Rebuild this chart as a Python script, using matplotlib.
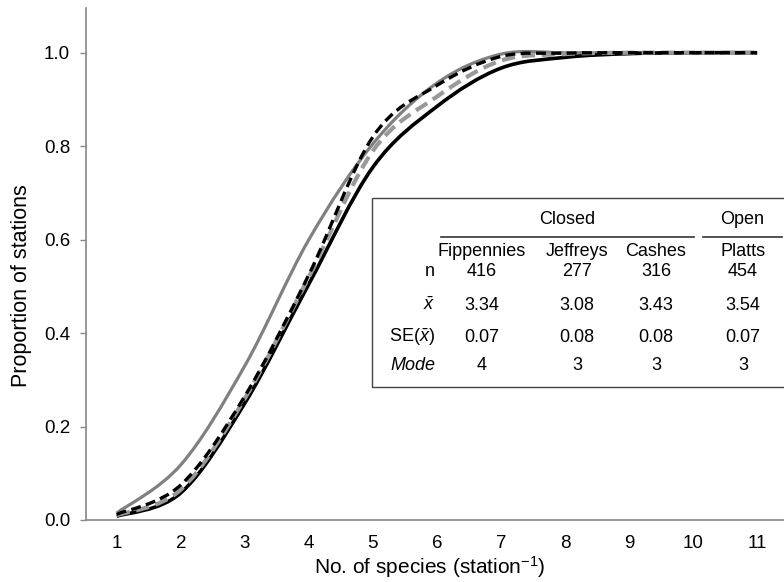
import matplotlib
matplotlib.use('Agg')
import matplotlib.pyplot as plt
from matplotlib.path import Path
from matplotlib.patches import PathPatch, Rectangle
from matplotlib.lines import Line2D

plt.rcParams['font.family'] = ['Liberation Sans', 'DejaVu Sans']
plt.rcParams['mathtext.fontset'] = 'custom'
plt.rcParams['mathtext.rm'] = 'Liberation Sans'
plt.rcParams['mathtext.it'] = 'Liberation Sans:italic'

# データ
species = [1, 2, 3, 4, 5, 6, 7, 8, 9, 10, 11]
gray_solid = [0.015, 0.118, 0.33, 0.60, 0.805, 0.935, 0.997, 1.0, 1.0, 1.0, 1.0]
black_solid = [0.008, 0.058, 0.25, 0.505, 0.755, 0.885, 0.967, 0.99, 0.998, 1.0, 1.0]
gray_dashed = [0.010, 0.065, 0.26, 0.52, 0.79, 0.906, 0.983, 0.997, 1.0, 1.0, 1.0]
black_dashed = [0.012, 0.075, 0.265, 0.525, 0.82, 0.93, 0.992, 0.999, 1.0, 1.0, 1.0]

# 表の内容
sites = ['Fippennies', 'Jeffreys', 'Cashes', 'Platts']
n_vals = ['416', '277', '316', '454']
mean_vals = ['3.34', '3.08', '3.43', '3.54']
se_vals = ['0.07', '0.08', '0.08', '0.07']
mode_vals = ['4', '3', '3', '3']

W, H = 784, 582
fig = plt.figure(figsize=(W / 100, H / 100), dpi=100)
ax = fig.add_axes([86 / W, 62 / H, (W - 86) / W, 512 / H])


def smooth_path(xs, ys):
    # Excel風のスムージング (Catmull-Rom -> Bezier)
    pts = list(zip(xs, ys))
    verts = [pts[0]]
    codes = [Path.MOVETO]
    n = len(pts)
    for i in range(n - 1):
        p0 = pts[i - 1] if i > 0 else pts[i]
        p1 = pts[i]
        p2 = pts[i + 1]
        p3 = pts[i + 2] if i + 2 < n else pts[i + 1]
        c1 = (p1[0] + (p2[0] - p0[0]) / 6, p1[1] + (p2[1] - p0[1]) / 6)
        c2 = (p2[0] - (p3[0] - p1[0]) / 6, p2[1] - (p3[1] - p1[1]) / 6)
        verts += [c1, c2, p2]
        codes += [Path.CURVE4] * 3
    return Path(verts, codes)


styles = [
    (gray_solid, dict(color='#808080', lw=2.3, linestyle='-')),
    (black_solid, dict(color='black', lw=2.6, linestyle='-')),
    (gray_dashed, dict(color='#999999', lw=3.0, linestyle=(0, (3.2, 1.6)))),
    (black_dashed, dict(color='black', lw=2.4, linestyle=(0, (3.0, 1.6)))),
]
for ys, st in styles:
    ax.add_patch(PathPatch(smooth_path(species, ys), fill=False,
                           capstyle='butt', **st))

ax.set_xlim(0.52, 11.42)
ax.set_ylim(0, 1.0957)
ax.set_xticks(species)
ax.set_yticks([0.0, 0.2, 0.4, 0.6, 0.8, 1.0])
ax.set_yticklabels(['0.0', '0.2', '0.4', '0.6', '0.8', '1.0'])
ax.tick_params(axis='x', length=0, labelsize=13.5, pad=11)
ax.tick_params(axis='y', length=4.5, width=1, color='#888888', labelsize=13.5, pad=7)
for s in ['top', 'right']:
    ax.spines[s].set_visible(False)
ax.spines['left'].set_color('#888888')
ax.spines['bottom'].set_color('#888888')
ax.spines['left'].set_linewidth(1.2)
ax.spines['bottom'].set_linewidth(1.2)

fig.text(430 / W, 1 - 567 / H, 'No. of species (station$^{-1}$)',
         ha='center', va='center', fontsize=15)
fig.text(22 / W, 1 - 286 / H, 'Proportion of stations', rotation=90,
         ha='center', va='center', fontsize=15.5)


def ptext(x, y, s, **kw):
    fig.text(x / W, 1 - y / H, s, va='center', fontsize=13, **kw)


# 表の枠
fig.add_artist(Rectangle((372 / W, 1 - 387 / H), (800 - 372) / W, (387 - 198) / H,
                         transform=fig.transFigure, fill=False,
                         edgecolor='#444444', lw=1.0))
fig.add_artist(Line2D([441 / W, 694 / W], [1 - 237 / H] * 2,
                      transform=fig.transFigure, color='#333333', lw=1.2))
fig.add_artist(Line2D([703 / W, 782 / W], [1 - 237 / H] * 2,
                      transform=fig.transFigure, color='#333333', lw=1.2))

ptext(567, 220, 'Closed', ha='center')
ptext(742, 220, 'Open', ha='center')
cols = [482, 577, 656, 743]
for cx, name, nv, mv, sv, mo in zip(cols, sites, n_vals, mean_vals, se_vals, mode_vals):
    ptext(cx, 251, name, ha='center')
    ptext(cx, 272, nv, ha='center')
    ptext(cx, 305, mv, ha='center')
    ptext(cx, 337, sv, ha='center')
    ptext(cx, 366, mo, ha='center')
ptext(435, 272, 'n', ha='right')
ptext(435, 305, r'$\bar{x}$', ha='right')
ptext(435, 337, r'SE($\bar{x}$)', ha='right')
ptext(435, 366, 'Mode', ha='right', style='italic')

fig.savefig('out.png', dpi=100)
